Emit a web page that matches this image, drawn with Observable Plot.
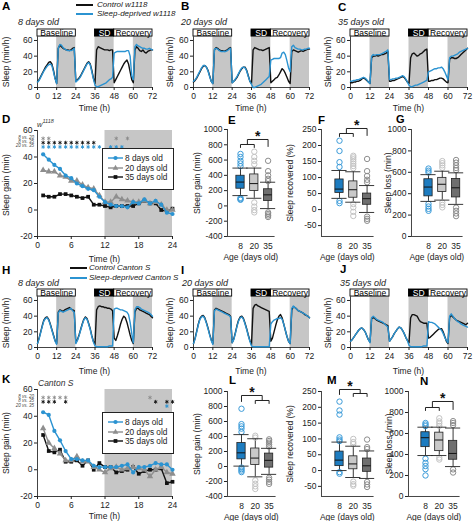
<!DOCTYPE html>
<html><head><meta charset="utf-8">
<script src="https://cdn.jsdelivr.net/npm/d3@7"></script>
<script src="https://cdn.jsdelivr.net/npm/@observablehq/plot@0.6"></script>
<style>
body{margin:0;background:#fff;}
#fig{position:relative;width:474px;height:521px;overflow:hidden;font-family:"Liberation Sans",Arial,Helvetica,sans-serif;}
.t{position:absolute;white-space:nowrap;font-size:8.5px;color:#222;line-height:1;}
.lt{font-weight:bold;font-size:11.5px;color:#000;}
.it{font-style:italic;}
</style></head><body><div id="fig"></div><script>
// ---------- DATA ----------
const hours = d3.range(0, 73);
const timeTicks = [0, 12, 24, 36, 48, 60, 72];
const nightSpans = [[12, 24], [36, 48], [60, 72]];
const phases = [{a: 0, b: 24, label: "Baseline", dark: false}, {a: 36, b: 48, label: "SD", dark: true}, {a: 48, b: 72, label: "Recovery", dark: false}];

// w1118 sleep profiles (min/h), hourly 0..72
const ctrlW8 = [7,10,14,18,22,26,29,32,33,30,22,12,5, 50,54,52,50,49,48,48,47,48,50,51, 8,10,12,15,19,23,27,31,33,30,22,12, 5, 48,52,51,50,49,48,48,48,47,48,48, 6,10,14,18,22,26,30,33,35,30,20,10, 6, 48,52,50,47,46,48,45,44,46,47,48,48];
const sdW8 = [7,9,13,17,21,24,27,29,30,28,20,11,5, 50,55,54,51,49,48,47,47,47,48,50, 7,9,11,14,18,22,26,30,32,29,20,11, 3, 1,1,2,3,4,5,6,8,10,11,13, 44,45,46,46,46,46,46,46,47,47,40,15, 10, 52,55,53,52,51,50,50,49,49,50,49,48];
const ctrlW20 = [7,9,12,16,20,24,27,28,26,22,15,8,5, 48,51,50,48,47,47,46,47,48,50,51, 6,8,10,13,17,21,24,26,26,22,15,8, 5, 48,51,50,49,48,48,47,48,49,50,51, 6,8,10,12,13,16,20,24,22,18,13,8, 5, 46,48,47,46,45,46,47,46,47,48,49,49];
const sdW20 = [8,10,13,17,21,25,28,28,26,21,14,8,5, 49,50,49,47,46,46,46,46,47,49,50, 6,8,11,14,18,22,25,26,25,21,14,8, 4, 0,0,1,2,3,4,6,8,10,12,14, 35,36,37,37,37,37,38,44,45,42,34,25, 20, 52,54,51,50,49,49,48,48,49,49,50,50];
const ctrlW35 = [6,6,7,7,8,8,9,11,12,11,9,7,5, 38,40,40,41,40,41,42,42,43,44,46, 8,8,9,9,10,11,12,13,14,13,10,7, 5, 38,43,44,42,40,41,43,44,46,48,49, 8,8,9,9,10,10,11,12,12,11,9,7, 6, 36,38,38,37,37,38,40,42,44,46,48,50];
const sdW35 = [8,8,9,9,10,10,11,12,13,12,10,7,5, 40,42,41,42,42,42,43,44,45,46,48, 10,10,11,11,12,12,13,14,15,14,11,7, 3, 1,1,2,3,3,4,5,6,7,8,9, 20,21,22,23,24,24,25,25,26,24,20,15, 10, 38,40,40,41,42,43,45,46,47,48,49,50];
// Canton S sleep profiles
const ctrlC8 = [5,12,20,28,35,38,39,36,30,23,16,9,5, 45,48,47,46,48,49,50,51,49,48,47, 6,10,16,23,30,36,39,37,31,24,15,8, 4, 48,52,53,52,52,51,51,50,50,49,47, 12,9,15,22,30,36,40,38,32,24,16,9, 5, 45,50,50,48,47,46,45,44,43,42,40,38];
const sdC8 = [5,11,19,27,34,37,38,35,29,22,15,8,4, 44,47,46,45,46,47,48,49,50,47,45, 5,9,15,22,29,35,38,36,30,23,14,7, 2, 1,1,1,1,1,1,1,1,2,2,2, 49,50,50,49,48,48,47,46,45,42,32,18, 6, 48,52,52,51,49,48,47,46,45,44,42,40];
const ctrlC20 = [5,12,21,30,37,40,41,38,32,25,17,10,5, 48,50,49,48,47,46,45,44,43,42,40, 6,11,19,28,35,39,40,37,31,24,16,9, 4, 50,54,55,53,52,51,50,49,48,47,46, 8,12,20,28,35,40,42,38,30,22,14,8, 5, 48,52,51,49,47,46,45,44,42,41,40,38];
const sdC20 = [5,11,20,29,36,39,40,37,31,24,16,9,4, 47,49,48,47,46,45,44,43,42,41,39, 6,10,18,27,34,38,39,36,30,23,15,8, 2, 1,1,1,1,1,1,1,1,1,1,1, 30,33,35,36,37,37,38,36,30,22,14,8, 5, 50,53,51,49,47,46,45,44,43,41,40,38];
const ctrlC35 = [8,10,13,16,19,22,24,25,23,20,15,10,7, 37,38,37,35,34,33,32,31,30,29,28, 8,11,14,18,21,24,26,25,22,18,13,9, 6, 38,42,42,41,40,36,33,32,31,31,31, 12,13,15,17,19,21,23,24,24,20,14,8, 5, 38,41,39,37,35,34,33,32,31,30,29,31];
const sdC35 = [8,10,13,16,19,22,24,25,23,20,15,10,6, 38,40,38,36,35,34,33,32,30,28,26, 8,11,14,18,21,24,26,25,22,18,13,9, 3, 1,1,1,1,1,1,1,1,2,2,2, 33,32,32,31,30,28,26,24,22,18,13,9, 6, 40,43,40,37,35,33,32,30,29,28,27,26];

// Hourly sleep gain (min), hours 1..24
const gainHours = d3.range(1, 25);
const gainW8 = [42,38,34,31,26,24,20,18,16,15,10,6,4,3,3,2,6,5,8,5,7,4,-2,-3];
const gainW20 = [30,29,29,26,25,22,22,19,17,16,11,6,6,10,8,7,6,6,7,5,6,4,0,0];
const gainW35 = [11,10,10,12,12,11,10,9,10,4,4,3,2,3,3,3,3,5,7,5,5,0,-1,1];
const gainC8 = [43,41,29,22,14,8,8,7,7,3,2,2,2,2,3,4,-2,2,2,3,5,4,4,0];
const gainC20 = [31,20,16,12,7,7,10,6,6,2,0,-2,1,2,0,1,2,1,0,-5,0,2,-2,-3];
const gainC35 = [26,14,13,15,6,6,7,3,7,0,5,2,2,-2,-1,0,2,-3,-1,0,0,1,-10,-9];
// significance asterisks (hours) per comparison row: 8 vs 20, 8 vs 35, 20 vs 35
const sigLabels = ["8 vs. 20", "8 vs. 35", "20 vs. 35"];
const sigW = [[1, 2, 14, 16], [1,2,3,4,5,6,7,8,9,10], [1,2,3,4,5,6,7,8,9,10,11,13,14,15]];
const sigC = [[1, 2, 3, 4, 5, 20], [1, 2, 3, 5, 21, 23, 24], [23]];
const ageLabels = ["8", "20", "35"];
const ageNames = ["8 days old", "20 days old", "35 days old"];

// Box plot statistics: [8, 20, 35 days]
const gainWbox = {lo: [135, 100, -35], q1: [225, 195, 65], med: [312, 292, 145], q3: [395, 412, 218], hi: [495, 495, 310]};
const gainWout = [[680, 640, 590, 555, 520, 105, 90, 80], [710, 640, 590, 545, 45, -10, -55, -85], [590, 455, 400, 355, 325, -85, -105, -125, -145]];
const recWbox = {lo: [35, 23, -9], q1: [52, 37, 15], med: [64, 62, 34], q3: [94, 88, 50], hi: [122, 118, 75]};
const recWout = [[215, 183, 148, 133, 27, 20], [168, 163, 157, 150, 143, 136, 129, 17, 7, -7, -20], [158, 120, 105, 93, 85, -22, -29, -35]];
const lossWbox = {lo: [328, 340, 300], q1: [375, 415, 365], med: [462, 488, 455], q3: [535, 548, 538], hi: [578, 610, 595]};
const lossWout = [[635, 615, 598, 305, 280, 258, 240], [705, 685, 665, 642, 318, 295, 272], [715, 690, 665, 640, 620, 270, 240, 215, 190]];
const gainCbox = {lo: [5, -138, -105], q1: [95, 20, -15], med: [182, 112, 82], q3: [312, 240, 172], hi: [425, 370, 242]};
const gainCout = [[770, 565, 535, 505, 460, -15, -35, -55, -75], [410, 385, -185, -230, -265, -300], [362, 340, 318, 292, 265, -150, -175, -205, -232]];
const recCbox = {lo: [0, -22, -25], q1: [14, 4, -4], med: [33, 21, 15], q3: [60, 45, 38], hi: [90, 77, 62]};
const recCout = [[218, 190, 177, 105, 98, 93, -5, -10], [100, 90, 84, -35, -43, -48], [98, 74, 68, -36, -44, -52]];
const lossCbox = {lo: [390, 390, 285], q1: [470, 432, 350], med: [560, 538, 410], q3: [612, 608, 530], hi: [660, 660, 652]};
const lossCout = [[700, 685, 670, 360, 320, 290, 260, 200], [745, 715, 695, 672, 370, 352], [718, 700, 680, 258, 228]];

// ---------- STYLE ----------
const FONT = '"Liberation Sans", Arial, Helvetica, sans-serif';
const BLUE = "#2b93d1", BLACK = "#111", GRAY = "#8e8e8e", SHADE = "#c6c6c6";
const boxFill = ["#1d7cc0", "#c9c9c9", "#6f6f6f"];
const outStroke = ["#3b9bd8", "#c2c2c2", "#8c8c8c"];
const sigColor = ["#8a8a8a", "#111", BLUE];
const plotStyle = {fontFamily: FONT, fontSize: "8.5px", color: "#222", background: "none", overflow: "visible"};
const fmt = d => String(d);
const fig = document.getElementById("fig");

function txt(s, x, y, o = {}) {
  const d = document.createElement("div");
  d.className = "t " + (o.cls || "");
  if (o.html) d.innerHTML = s; else d.textContent = s;
  d.style.left = x + "px"; d.style.top = y + "px";
  let tr = o.anchor === "middle" ? "translate(-50%,-50%)" : o.anchor === "end" ? "translate(-100%,-50%)" : "translate(0,-50%)";
  if (o.rot) tr = "translate(-50%,-50%) rotate(-90deg)";
  d.style.transform = tr;
  if (o.size) d.style.fontSize = o.size + "px";
  if (o.color) d.style.color = o.color;
  fig.appendChild(d);
  return d;
}
function place(svg, left, top) {
  svg.style.position = "absolute"; svg.style.left = left + "px"; svg.style.top = top + "px";
  fig.appendChild(svg);
}
function swatch(x, y, w, color) {
  const d = document.createElement("div");
  d.style.cssText = `position:absolute;left:${x}px;top:${y - 0.8}px;width:${w}px;height:1.7px;background:${color}`;
  fig.appendChild(d);
}

// ---------- PANELS ----------
function linePanel(x0, x1, yTop, yBot, ctrl, sd) {
  const ML = 34, MR = 8, MT = 2, MB = 24;
  const rows = hours.map((t, i) => ({t, c: ctrl[i], s: sd[i]}));
  const svg = Plot.plot({
    width: ML + (x1 - x0) + MR, height: MT + (yBot - yTop) + MB,
    marginLeft: ML, marginRight: MR, marginTop: MT, marginBottom: MB,
    x: {domain: [0, 72]}, y: {domain: [0, 74]},
    style: plotStyle,
    marks: [
      Plot.rect(nightSpans, {x1: d => d[0], x2: d => d[1], y1: 0, y2: 65, fill: SHADE}),
      Plot.rect(phases.filter(d => !d.dark), {x1: "a", x2: "b", y1: 65, y2: 74, fill: "#fff", stroke: "#000", strokeWidth: 0.9}),
      Plot.rect(phases.filter(d => d.dark), {x1: "a", x2: "b", y1: 65, y2: 74, fill: "#000", stroke: "#000", strokeWidth: 0.9}),
      Plot.text(phases.filter(d => !d.dark), {x: d => (d.a + d.b) / 2, y: 69.5, text: "label", fill: "#000", fontSize: 8.5}),
      Plot.text(phases.filter(d => d.dark), {x: d => (d.a + d.b) / 2, y: 69.5, text: "label", fill: "#fff", fontSize: 8.5}),
      Plot.ruleY([0], {stroke: "#444"}),
      Plot.ruleX([0], {y1: 0, y2: 65, stroke: "#444"}),
      Plot.axisX({ticks: timeTicks, tickFormat: fmt, tickSize: 3, tickPadding: 2, label: null}),
      Plot.axisY({ticks: [0, 20, 40, 60], tickFormat: fmt, tickSize: 3, tickPadding: 2, label: null}),
      Plot.lineY(rows, {x: "t", y: "c", stroke: BLACK, strokeWidth: 1.4}),
      Plot.lineY(rows, {x: "t", y: "s", stroke: BLUE, strokeWidth: 1.4})
    ]
  });
  place(svg, x0 - ML, yTop - MT);
}

function gainPanel(yTop, yBot, s8, s20, s35, sig) {
  const x0 = 37, x1 = 172, ML = 34, MR = 6, MT = 4, MB = 24;
  const mk = (arr) => gainHours.map((h, i) => ({h, v: arr[i]}));
  const sigY = [54, 50.8, 47.6];
  const sigRows = sig.flatMap((hs, r) => hs.map(h => ({h, y: sigY[r], c: sigColor[r]})));
  const svg = Plot.plot({
    width: ML + (x1 - x0) + MR, height: MT + (yBot - yTop) + MB,
    marginLeft: ML, marginRight: MR, marginTop: MT, marginBottom: MB,
    x: {domain: [0, 24]}, y: {domain: [-20, 60]}, color: {type: "identity"},
    style: plotStyle,
    marks: [
      Plot.rect([[12, 24]], {x1: d => d[0], x2: d => d[1], y1: -20, y2: 60, fill: SHADE}),
      Plot.ruleX([0], {y1: -20, y2: 60, stroke: "#444"}),
      Plot.ruleY([-20], {x1: 0, x2: 24, stroke: "#444"}),
      Plot.axisX({ticks: [0, 6, 12, 18, 24], tickFormat: fmt, tickSize: 3, tickPadding: 2, label: null}),
      Plot.axisY({ticks: [-20, 0, 20, 40, 60], tickFormat: fmt, tickSize: 3, tickPadding: 2, label: null}),
      Plot.line(mk(s35), {x: "h", y: "v", stroke: BLACK, strokeWidth: 1.4}),
      Plot.dot(mk(s35), {x: "h", y: "v", symbol: "square", fill: BLACK, r: 2.1}),
      Plot.line(mk(s20), {x: "h", y: "v", stroke: GRAY, strokeWidth: 1.4}),
      Plot.dot(mk(s20), {x: "h", y: "v", symbol: "triangle", fill: GRAY, r: 2.4}),
      Plot.line(mk(s8), {x: "h", y: "v", stroke: BLUE, strokeWidth: 1.4}),
      Plot.dot(mk(s8), {x: "h", y: "v", symbol: "circle", fill: BLUE, r: 2.1}),
      Plot.dot(sigRows, {x: "h", y: "y", symbol: "asterisk", stroke: "c", r: 1.8, strokeWidth: 0.9})
    ]
  });
  place(svg, x0 - ML, yTop - MT);
  // significance row labels
  const py = v => yTop + (60 - v) * (yBot - yTop) / 80;
  sigLabels.forEach((s, r) => txt(s, 34, py(sigY[r]), {anchor: "end", cls: "it", size: 4.5, color: "#444"}));
}

function gainLegend(left, top) {
  const box = document.createElement("div");
  box.style.cssText = `position:absolute;left:${left}px;top:${top}px;width:70px;height:40px;border:1px solid #222;background:#fff`;
  fig.appendChild(box);
  const items = [{c: BLUE, s: "circle"}, {c: GRAY, s: "triangle"}, {c: BLACK, s: "square"}];
  items.forEach((it, i) => {
    const y = top + 10 + i * 9.7;
    const svg = d3.create("svg").attr("width", 16).attr("height", 8)
      .style("position", "absolute").style("left", (left + 6) + "px").style("top", (y - 4) + "px");
    svg.append("line").attr("x1", 0).attr("x2", 15).attr("y1", 4).attr("y2", 4).attr("stroke", it.c).attr("stroke-width", 1.4);
    svg.append("path").attr("transform", "translate(7.5,4)").attr("fill", it.c)
      .attr("d", d3.symbol(it.s === "circle" ? d3.symbolCircle : it.s === "triangle" ? d3.symbolTriangle : d3.symbolSquare, 14)());
    fig.appendChild(svg.node());
    txt(ageNames[i], left + 23, y, {size: 8.3});
  });
}

function boxPanel(c) {
  const sp = 13.8;
  const xa = -(c.cat0 - c.axisX) / sp, xb = 2 + 7 / sp;
  const ML = 32, MR = 6, MT = 16, MB = 22;
  const [d0, d1] = c.domain;
  const v = py => d1 - (py - c.yTop) * (d1 - d0) / (c.yBot - c.yTop);
  const boxes = [0, 1, 2].map(i => ({i, lo: c.st.lo[i], q1: c.st.q1[i], med: c.st.med[i], q3: c.st.q3[i], hi: c.st.hi[i], f: boxFill[i]}));
  const outs = c.outs.flatMap((arr, i) => arr.map(val => ({i, val, c: outStroke[i]})));
  const marks = [
    Plot.ruleX([xa], {y1: d0, y2: d1, stroke: "#444"}),
    Plot.ruleY([d0], {x1: xa, x2: xb, stroke: "#444"}),
    Plot.axisY({ticks: c.ticks, tickFormat: fmt, tickSize: 3, tickPadding: 2, label: null}),
    Plot.axisX({ticks: [0, 1, 2], tickFormat: i => ageLabels[i], tickSize: 0, tickPadding: 6, label: null}),
    Plot.ruleX(boxes, {x: "i", y1: "lo", y2: "hi", stroke: "#222", strokeWidth: 0.9}),
    Plot.dot(outs, {x: "i", y: "val", r: 2.7, stroke: "c", fill: "none", strokeWidth: 1}),
    Plot.ruleY(boxes, {y: "hi", x1: d => d.i - 0.55, x2: d => d.i + 0.55, stroke: "#222", strokeWidth: 0.9}),
    Plot.ruleY(boxes, {y: "lo", x1: d => d.i - 0.55, x2: d => d.i + 0.55, stroke: "#222", strokeWidth: 0.9}),
    Plot.rect(boxes, {x1: d => d.i - 0.3, x2: d => d.i + 0.3, y1: "q1", y2: "q3", fill: "f", stroke: "#222", strokeWidth: 0.8}),
    Plot.ruleY(boxes, {y: "med", x1: d => d.i - 0.3, x2: d => d.i + 0.3, stroke: "#111", strokeWidth: 1})
  ];
  if (c.br) {
    const b = c.br;
    let paths, starX;
    if (b.type === "12v3") {
      paths = [
        [[0, b.e], [0, b.l], [1, b.l], [1, b.e]],
        [[0.5, b.l], [0.5, b.u], [2, b.u], [2, b.e - 1]]
      ];
      starX = 1.25;
    } else {
      paths = [
        [[1, b.e], [1, b.l], [2, b.l], [2, b.e]],
        [[1.5, b.l], [1.5, b.u], [0, b.u], [0, b.l + 1]]
      ];
      starX = 0.75;
    }
    const pts = paths.flatMap((p, k) => p.map(([x, py]) => ({k, x, y: v(py)})));
    marks.push(Plot.line(pts, {x: "x", y: "y", z: "k", stroke: "#222", strokeWidth: 1}));
    marks.push(Plot.text(["*"], {x: starX, y: v(b.s), text: d => d, fontSize: 14, fontWeight: "bold", fill: "#111", dy: 3}));
  }
  const svg = Plot.plot({
    width: ML + (xb - xa) * sp + MR, height: MT + (c.yBot - c.yTop) + MB,
    marginLeft: ML, marginRight: MR, marginTop: MT, marginBottom: MB,
    x: {domain: [xa, xb]}, y: {domain: c.domain}, color: {type: "identity"},
    style: plotStyle, marks
  });
  place(svg, c.axisX - ML, c.yTop - MT);
  txt("Age (days old)", (c.axisX + c.cat0 + 2 * sp + 7) / 2, c.yBot + 21, {anchor: "middle"});
  txt(c.ylabel, c.ylx, (c.yTop + c.yBot) / 2, {rot: true});
}

// ---------- BUILD ----------
// Row 1
txt("A", 2, 7, {cls: "lt"}); txt("B", 181, 7, {cls: "lt"}); txt("C", 338, 8, {cls: "lt"});
swatch(76, 5, 17, BLACK); txt("Control w1118", 97, 5, {cls: "it", size: 8});
swatch(76, 14, 17, BLUE); txt("Sleep-deprived w1118", 97, 14, {cls: "it", size: 8});
txt(ageNames[0], 18, 21.5, {cls: "it", size: 9}); txt(ageNames[1], 181, 21.5, {cls: "it", size: 9}); txt(ageNames[2], 338, 21.5, {cls: "it", size: 9});
linePanel(37, 152, 29, 87, ctrlW8, sdW8);
linePanel(193, 309, 29, 87, ctrlW20, sdW20);
linePanel(350, 467, 29, 87, ctrlW35, sdW35);
[[94.5, 108], [251, 108], [408.5, 108]].forEach(([x, y]) => txt("Time (h)", x, y, {anchor: "middle"}));
[6, 170, 328].forEach(x => txt("Sleep (min/h)", x, 62, {rot: true}));

// Row 2
txt("D", 2, 120, {cls: "lt"});
txt("w<sup style='font-size:5.5px;vertical-align:4px'>1118</sup>", 37, 124, {html: true, cls: "it", size: 7.5, color: "#333"});
gainPanel(130, 236, gainW8, gainW20, gainW35, sigW);
gainLegend(102, 148);
txt("Time (h)", 104.5, 259, {anchor: "middle"});
txt("Sleep gain (min)", 6, 185, {rot: true});
txt("E", 228, 121, {cls: "lt"}); txt("F", 318, 121, {cls: "lt"}); txt("G", 396, 118.5, {cls: "lt", size: 11});
boxPanel({axisX: 227, cat0: 240, yTop: 129, yBot: 236, domain: [-400, 1000], ticks: d3.range(-400, 1001, 200), st: gainWbox, outs: gainWout, ylabel: "Sleep gain (min)", ylx: 197, br: {type: "12v3", u: 139, l: 144, e: 147, s: 133}});
boxPanel({axisX: 321, cat0: 339, yTop: 129, yBot: 236, domain: [-84, 250], ticks: d3.range(-50, 251, 50), st: recWbox, outs: recWout, ylabel: "Sleep recovered (%)", ylx: 290, br: {type: "12v3", u: 128, l: 133, e: 136, s: 122}});
boxPanel({axisX: 411, cat0: 428, yTop: 129, yBot: 236, domain: [0, 1000], ticks: d3.range(0, 1001, 200), st: lossWbox, outs: lossWout, ylabel: "Sleep loss (min)", ylx: 388});

// Row 3
txt("H", 2, 271, {cls: "lt"}); txt("I", 181, 271, {cls: "lt"}); txt("J", 340, 270, {cls: "lt"});
swatch(70, 268, 17, BLACK); txt("Control Canton S", 89, 268, {cls: "it", size: 8});
swatch(70, 278, 17, BLUE); txt("Sleep-deprived Canton S", 89, 278, {cls: "it", size: 8});
txt(ageNames[0], 18, 283, {cls: "it", size: 9}); txt(ageNames[1], 182, 283, {cls: "it", size: 9}); txt(ageNames[2], 340, 283, {cls: "it", size: 9});
linePanel(37, 152, 289, 347, ctrlC8, sdC8);
linePanel(193, 309, 289, 347, ctrlC20, sdC20);
linePanel(350, 467, 289, 347, ctrlC35, sdC35);
[[94.5, 371], [251, 371], [408.5, 371]].forEach(([x, y]) => txt("Time (h)", x, y, {anchor: "middle"}));
[6, 170, 328].forEach(x => txt("Sleep (min/h)", x, 323, {rot: true}));

// Row 4
txt("K", 2, 380, {cls: "lt"});
txt("Canton S", 38, 383, {cls: "it", size: 8.5, color: "#333"});
gainPanel(389, 496, gainC8, gainC20, gainC35, sigC);
gainLegend(102, 412);
txt("Time (h)", 104.5, 516, {anchor: "middle"});
txt("Sleep gain (min)", 6, 443, {rot: true});
txt("L", 229, 381, {cls: "lt"}); txt("M", 327, 381, {cls: "lt"}); txt("N", 420, 382, {cls: "lt"});
boxPanel({axisX: 227, cat0: 241, yTop: 391, yBot: 496, domain: [-400, 1000], ticks: d3.range(-400, 1001, 200), st: gainCbox, outs: gainCout, ylabel: "Sleep gain (min)", ylx: 197, br: {type: "1v23", u: 395, l: 400, e: 403, s: 389}});
boxPanel({axisX: 321, cat0: 339, yTop: 391, yBot: 496, domain: [-82, 250], ticks: d3.range(-50, 251, 50), st: recCbox, outs: recCout, ylabel: "Sleep recovered (%)", ylx: 290, br: {type: "1v23", u: 389, l: 393, e: 396, s: 383}});
boxPanel({axisX: 408, cat0: 425, yTop: 391, yBot: 496, domain: [0, 1000], ticks: d3.range(0, 1001, 200), st: lossCbox, outs: lossCout, ylabel: "Sleep loss (min)", ylx: 389, br: {type: "12v3", u: 401, l: 407, e: 410, s: 395}});
</script></body></html>
